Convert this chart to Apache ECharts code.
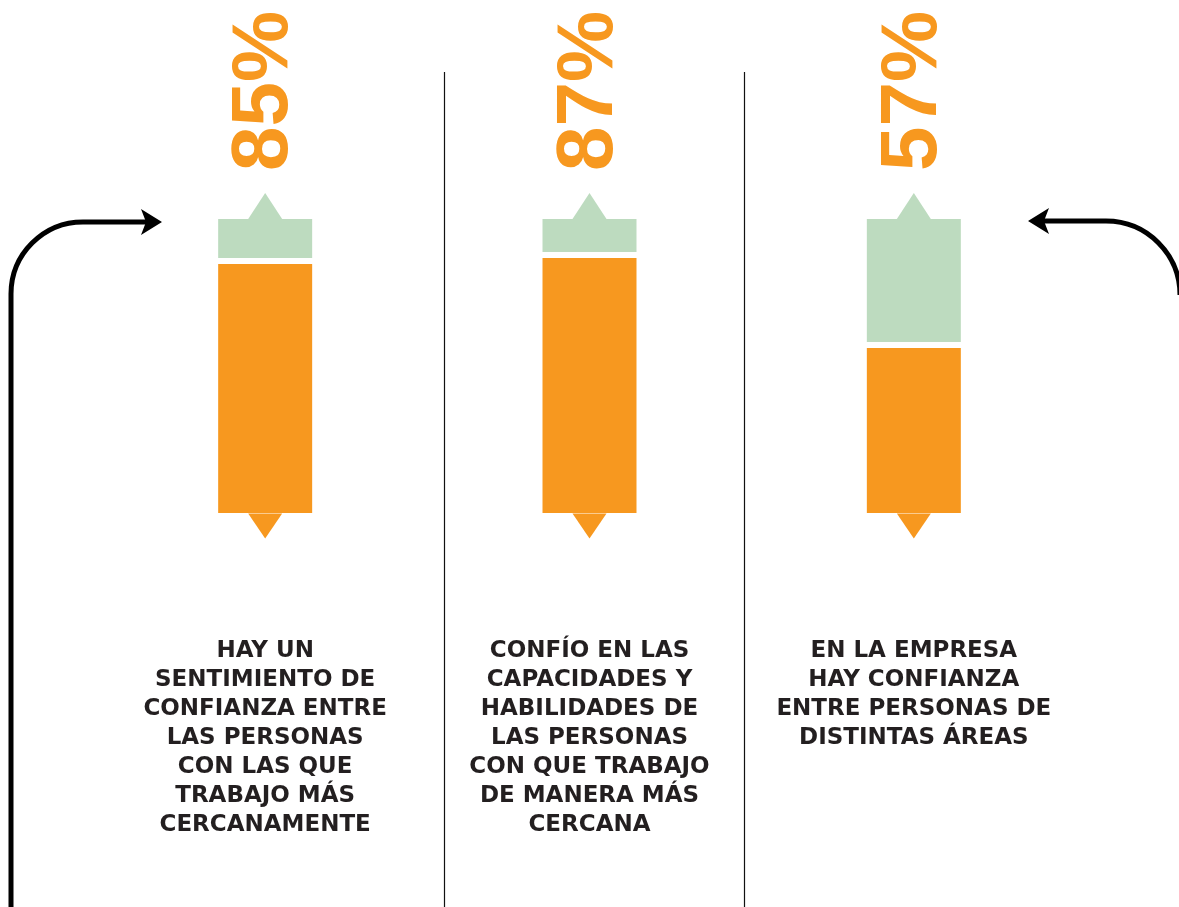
<!DOCTYPE html>
<html>
<head>
<meta charset="utf-8">
<title>Confianza</title>
<script src="https://cdn.jsdelivr.net/npm/echarts@6/dist/echarts.min.js"></script>
<style>
  html, body { margin: 0; padding: 0; background: #fff; }
  #chart { width: 1179px; height: 907px; }
</style>
</head>
<body>
<div id="chart"></div>
<script>
// preguntas (con los saltos de linea del original)
const categories = [
  'HAY UN\nSENTIMIENTO DE\nCONFIANZA ENTRE\nLAS PERSONAS\nCON LAS QUE\nTRABAJO MÁS\nCERCANAMENTE',
  'CONFÍO EN LAS\nCAPACIDADES Y\nHABILIDADES DE\nLAS PERSONAS\nCON QUE TRABAJO\nDE MANERA MÁS\nCERCANA',
  'EN LA EMPRESA\nHAY CONFIANZA\nENTRE PERSONAS DE\nDISTINTAS ÁREAS'
]
// porcentaje de acuerdo (naranja) y el resto hasta 100 (verde)
const agreeValues = [85, 87, 57]
const restValues = [15, 13, 43]
const scaleMax = 100

const orange = '#f7981f'
const green = '#bddbbf'
const dark = '#231f20'

const chart = echarts.init(document.getElementById('chart'))

const option = {
  animation: false,
  grid: {
    left: 103,
    right: 103,
    top: 216,
    bottom: 391
  },
  xAxis: {
    type: 'category',
    data: categories,
    axisLine: { show: false },
    axisTick: { show: false },
    axisLabel: {
      interval: 0,
      margin: 121,
      color: dark,
      fontFamily: 'DejaVu Sans',
      fontWeight: 'bold',
      fontSize: 23,
      lineHeight: 29,
      align: 'center'
    }
  },
  yAxis: {
    type: 'value',
    min: 0,
    max: scaleMax,
    show: false,
    splitLine: { show: false }
  },
  series: [
    {
      name: 'acuerdo',
      type: 'bar',
      stack: 'total',
      barWidth: 100,
      data: agreeValues,
      itemStyle: { color: orange, borderColor: '#fff', borderWidth: 3 },
      z: 2
    },
    {
      name: 'resto',
      type: 'bar',
      stack: 'total',
      barWidth: 100,
      data: restValues,
      itemStyle: { color: green, borderColor: '#fff', borderWidth: 3 },
      z: 2
    },
    {
      // triangulo verde arriba + porcentaje girado
      name: 'tope',
      type: 'scatter',
      data: categories.map(() => scaleMax),
      symbol: 'triangle',
      symbolSize: [34, 26],
      symbolOffset: [0, -10],
      itemStyle: { color: green, opacity: 1 },
      z: 3,
      label: {
        show: true,
        position: 'top',
        distance: 22,
        rotate: 90,
        align: 'left',
        verticalAlign: 'middle',
        color: orange,
        fontFamily: '"Liberation Sans", Arial, sans-serif',
        fontWeight: 'bold',
        fontSize: 80,
        formatter: (p) => agreeValues[p.dataIndex] + '%'
      }
    },
    {
      // triangulo naranja abajo
      name: 'base',
      type: 'scatter',
      data: categories.map(() => 0),
      symbol: 'triangle',
      symbolRotate: 180,
      symbolSize: [34, 25],
      symbolOffset: [0, 10],
      itemStyle: { color: orange, opacity: 1 },
      z: 3
    }
  ],
  graphic: [
    // separadores
    { type: 'line', shape: { x1: 444.5, y1: 72, x2: 444.5, y2: 907 }, style: { stroke: '#111', lineWidth: 1.2 } },
    { type: 'line', shape: { x1: 744.5, y1: 72, x2: 744.5, y2: 907 }, style: { stroke: '#111', lineWidth: 1.2 } },
    // flecha izquierda
    { type: 'line', shape: { x1: 11, y1: 907, x2: 11, y2: 294 }, style: { stroke: '#000', lineWidth: 5 } },
    { type: 'arc', shape: { cx: 83, cy: 294, r: 72, startAngle: Math.PI, endAngle: Math.PI * 1.5, clockwise: true }, style: { stroke: '#000', lineWidth: 5, fill: null } },
    { type: 'line', shape: { x1: 83, y1: 222, x2: 148, y2: 222 }, style: { stroke: '#000', lineWidth: 5 } },
    { type: 'polygon', shape: { points: [[162, 222], [141, 209], [146, 222], [141, 235]] }, style: { fill: '#000' } },
    // flecha derecha
    { type: 'arc', shape: { cx: 1106, cy: 295, r: 74, startAngle: Math.PI * 1.5, endAngle: Math.PI * 2, clockwise: true }, style: { stroke: '#000', lineWidth: 5, fill: null } },
    { type: 'line', shape: { x1: 1106, y1: 221, x2: 1043, y2: 221 }, style: { stroke: '#000', lineWidth: 5 } },
    { type: 'polygon', shape: { points: [[1028, 221], [1049, 208], [1044, 221], [1049, 234]] }, style: { fill: '#000' } }
  ]
}

chart.setOption(option)
</script>
</body>
</html>
